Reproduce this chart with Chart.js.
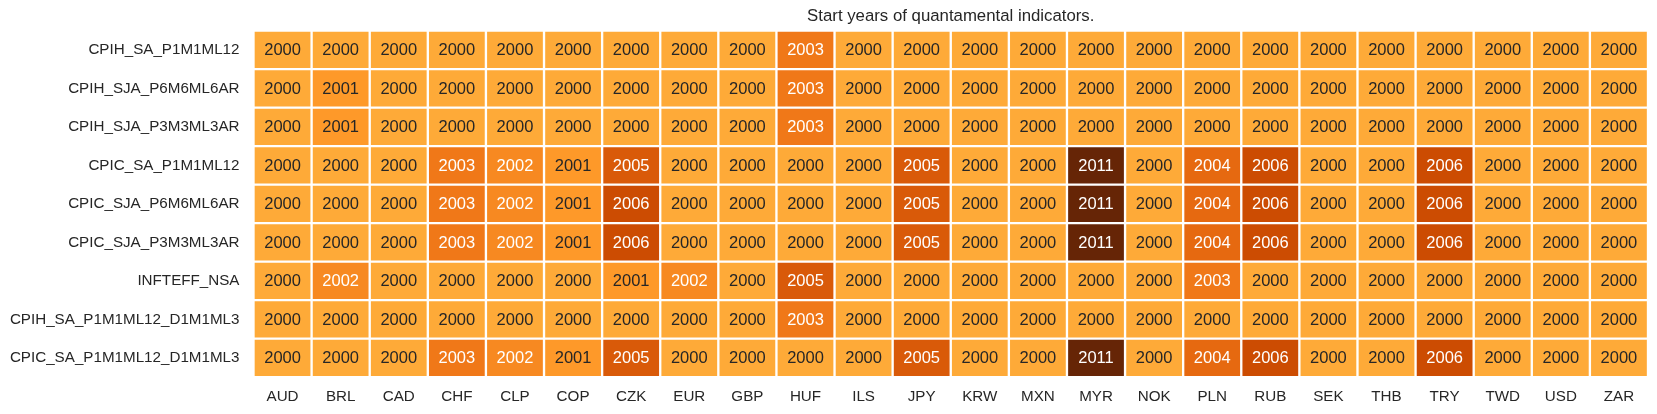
<!DOCTYPE html>
<html>
<head>
<meta charset="utf-8">
<script src="https://cdn.jsdelivr.net/npm/chart.js@4.4.1/dist/chart.umd.min.js"></script>
<style>
  html, body { margin: 0; padding: 0; background: #ffffff; }
  #wrap { width: 1657px; height: 414px; position: relative; }
</style>
</head>
<body>
<div id="wrap"><canvas id="c"></canvas></div>
<script>
// ---- data ----
const currencies = ["AUD","BRL","CAD","CHF","CLP","COP","CZK","EUR","GBP","HUF","ILS","JPY","KRW","MXN","MYR","NOK","PLN","RUB","SEK","THB","TRY","TWD","USD","ZAR"];
const indicators = ["CPIH_SA_P1M1ML12","CPIH_SJA_P6M6ML6AR","CPIH_SJA_P3M3ML3AR","CPIC_SA_P1M1ML12","CPIC_SJA_P6M6ML6AR","CPIC_SJA_P3M3ML3AR","INFTEFF_NSA","CPIH_SA_P1M1ML12_D1M1ML3","CPIC_SA_P1M1ML12_D1M1ML3"];
//                         AUD  BRL  CAD  CHF  CLP  COP  CZK  EUR  GBP  HUF  ILS  JPY  KRW  MXN  MYR  NOK  PLN  RUB  SEK  THB  TRY  TWD  USD  ZAR
const CPIH_SA_P1M1ML12        = [2000,2000,2000,2000,2000,2000,2000,2000,2000,2003,2000,2000,2000,2000,2000,2000,2000,2000,2000,2000,2000,2000,2000,2000];
const CPIH_SJA_P6M6ML6AR      = [2000,2001,2000,2000,2000,2000,2000,2000,2000,2003,2000,2000,2000,2000,2000,2000,2000,2000,2000,2000,2000,2000,2000,2000];
const CPIH_SJA_P3M3ML3AR      = [2000,2001,2000,2000,2000,2000,2000,2000,2000,2003,2000,2000,2000,2000,2000,2000,2000,2000,2000,2000,2000,2000,2000,2000];
const CPIC_SA_P1M1ML12        = [2000,2000,2000,2003,2002,2001,2005,2000,2000,2000,2000,2005,2000,2000,2011,2000,2004,2006,2000,2000,2006,2000,2000,2000];
const CPIC_SJA_P6M6ML6AR      = [2000,2000,2000,2003,2002,2001,2006,2000,2000,2000,2000,2005,2000,2000,2011,2000,2004,2006,2000,2000,2006,2000,2000,2000];
const CPIC_SJA_P3M3ML3AR      = [2000,2000,2000,2003,2002,2001,2006,2000,2000,2000,2000,2005,2000,2000,2011,2000,2004,2006,2000,2000,2006,2000,2000,2000];
const INFTEFF_NSA             = [2000,2002,2000,2000,2000,2000,2001,2002,2000,2005,2000,2000,2000,2000,2000,2000,2003,2000,2000,2000,2000,2000,2000,2000];
const CPIH_SA_P1M1ML12_D1M1ML3 = [2000,2000,2000,2000,2000,2000,2000,2000,2000,2003,2000,2000,2000,2000,2000,2000,2000,2000,2000,2000,2000,2000,2000,2000];
const CPIC_SA_P1M1ML12_D1M1ML3 = [2000,2000,2000,2003,2002,2001,2005,2000,2000,2000,2000,2005,2000,2000,2011,2000,2004,2006,2000,2000,2006,2000,2000,2000];
const rowValues = [CPIH_SA_P1M1ML12, CPIH_SJA_P6M6ML6AR, CPIH_SJA_P3M3ML3AR, CPIC_SA_P1M1ML12, CPIC_SJA_P6M6ML6AR, CPIC_SJA_P3M3ML3AR, INFTEFF_NSA, CPIH_SA_P1M1ML12_D1M1ML3, CPIC_SA_P1M1ML12_D1M1ML3];
const titleText = "Start years of quantamental indicators.";

// ---- colour map (YlOrBr) ----
const ylorbr = ["#ffffe5","#fff7bc","#fee391","#fec44f","#fe9929","#ec7014","#cc4c02","#993404","#662506"].map(h => [parseInt(h.slice(1,3),16), parseInt(h.slice(3,5),16), parseInt(h.slice(5,7),16)]);
const VMIN = 1991, VMAX = 2011;
function cmap(v) {
  let t = (v - VMIN) / (VMAX - VMIN);
  t = Math.max(0, Math.min(1, t));
  const p = t * (ylorbr.length - 1);
  const i = Math.min(Math.floor(p), ylorbr.length - 2);
  const f = p - i;
  const a = ylorbr[i], b = ylorbr[i + 1];
  return [0,1,2].map(k => Math.round(a[k] + (b[k] - a[k]) * f));
}
function rgbStr(c) { return `rgb(${c[0]},${c[1]},${c[2]})`; }
function luminance(c) {
  const lin = c.map(x => { x /= 255; return x <= 0.03928 ? x / 12.92 : Math.pow((x + 0.055) / 1.055, 2.4); });
  return 0.2126 * lin[0] + 0.7152 * lin[1] + 0.0722 * lin[2];
}

const FONT = "'Liberation Sans', Arial, Helvetica, sans-serif";
const TXT = "#262626";

const datasets = rowValues.map((vals, r) => ({
  label: indicators[r],
  data: vals.map(() => [r, r + 1]),
  years: vals,
  backgroundColor: vals.map(v => rgbStr(cmap(v))),
  borderColor: "#ffffff",
  borderWidth: 1.5,
  borderSkipped: false,
  barPercentage: 1.0,
  categoryPercentage: 1.0,
  grouped: false
}));

const annotPlugin = {
  id: "annot",
  afterDatasetsDraw(chart) {
    const ctx = chart.ctx;
    ctx.save();
    ctx.font = `16.5px ${FONT}`;
    ctx.textAlign = "center";
    ctx.textBaseline = "middle";
    chart.data.datasets.forEach((ds, di) => {
      const meta = chart.getDatasetMeta(di);
      meta.data.forEach((bar, i) => {
        const v = ds.years[i];
        const c = cmap(v);
        ctx.fillStyle = luminance(c) > 0.408 ? TXT : "#ffffff";
        const cy = (bar.y + bar.base) / 2;
        ctx.fillText(String(v), bar.x, cy + 1);
      });
    });
    ctx.restore();
  }
};

new Chart(document.getElementById("c"), {
  type: "bar",
  data: { labels: currencies, datasets },
  plugins: [annotPlugin],
  options: {
    responsive: true,
    maintainAspectRatio: false,
    animation: false,
    layout: { padding: { left: 0, right: 9, top: 0, bottom: 0 } },
    plugins: {
      legend: { display: false },
      tooltip: { enabled: false },
      title: {
        display: true,
        text: titleText,
        fullSize: false,
        align: "center",
        color: TXT,
        font: { family: FONT, size: 16.8, weight: "normal", lineHeight: 1.2 },
        padding: { top: 5.9, bottom: 4.5 }
      }
    },
    scales: {
      x: {
        type: "category",
        offset: true,
        grid: { display: false, drawTicks: false },
        border: { display: false },
        ticks: {
          color: TXT, font: { family: FONT, size: 15.2 },
          padding: 10, maxRotation: 0, autoSkip: false
        },
        afterFit(axis) { axis.height = 36.8; }
      },
      y: {
        type: "linear",
        min: 0, max: 9, reverse: true,
        grid: { display: false, drawTicks: false },
        border: { display: false },
        afterBuildTicks(axis) { axis.ticks = indicators.map((_, i) => ({ value: i + 0.5 })); },
        ticks: {
          color: TXT, font: { family: FONT, size: 15.2 },
          padding: 14, autoSkip: false,
          callback: (v) => indicators[Math.floor(v)]
        },
        afterFit(axis) { axis.width = 253.5; }
      }
    }
  }
});
</script>
</body>
</html>
